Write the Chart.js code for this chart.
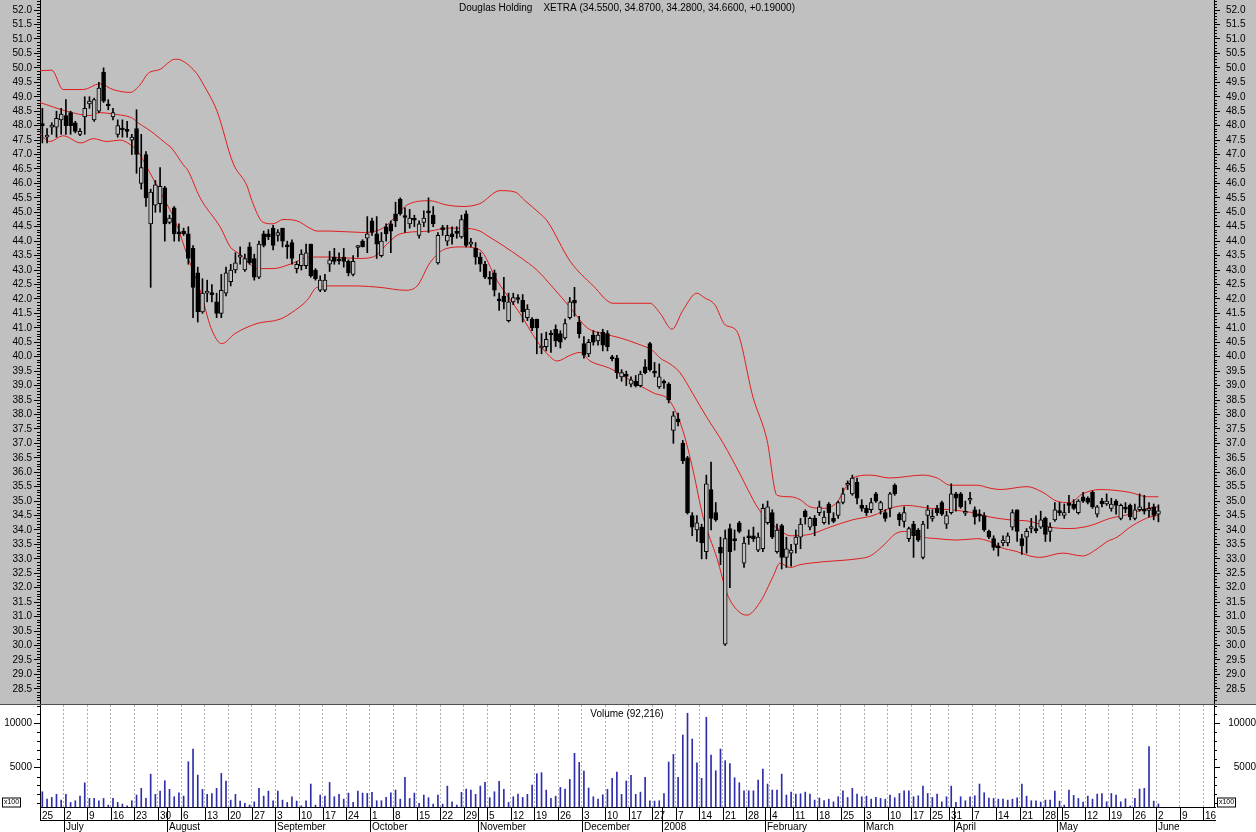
<!DOCTYPE html>
<html lang="en">
<head>
<meta charset="UTF-8">
<title>Douglas Holding</title>
<script src="https://cdn.jsdelivr.net/npm/chart.js"></script>
<style>
  body { margin: 0; background: #c0c0c0; width: 1256px; height: 832px; overflow: hidden; position: relative; }
  #priceChart { position: absolute; left: 0; top: 0; }
  #volumeChart { position: absolute; left: 0; top: 705px; background: #ffffff; }
</style>
</head>
<body>
<canvas id="priceChart" width="1256" height="705"></canvas>
<canvas id="volumeChart" width="1256" height="127"></canvas>
<script>
// daily candles, one per trading day (index 0 = 25 June 2007)
const opens = [
  48.05, 47.6, 47.95, 47.95, 48.2, 48.35, 48.45, 48.1, 47.7, 48.3,
  48.75, 48.2, 48.5, 49.85, 48.72, 48.3, 47.7, 47.88, 47.82, 47.5,
  47.9, 46.0, 47.0, 44.6, 45.25, 45.3, 45.85, 44.65, 45.15, 44.27,
  44.35, 44.25, 43.75, 42.9, 41.55, 42.2, 42.17, 41.9, 41.5, 42.2,
  42.6, 43.0, 43.45, 43.0, 43.8, 43.4, 42.75, 44.25, 44.25, 44.45,
  44.2, 44.45, 43.82, 43.95, 43.05, 43.15, 43.15, 43.9, 43.0, 42.3,
  42.3, 43.2, 43.45, 43.38, 43.45, 43.3, 42.85, 43.78, 44.0, 44.1,
  44.7, 44.25, 43.5, 44.5, 44.6, 44.95, 45.45, 44.88, 44.6, 44.77,
  44.2, 44.65, 45.02, 44.9, 43.25, 44.45, 44.0, 44.25, 44.32, 44.15,
  44.95, 43.9, 43.75, 43.45, 43.2, 42.72, 42.9, 41.97, 42.1, 41.25,
  41.9, 42.02, 41.95, 41.35, 41.3, 41.3, 40.3, 40.35, 40.8, 40.95,
  40.8, 40.65, 41.35, 41.95, 41.2, 40.45, 40.1, 40.75, 40.55, 40.85,
  40.8, 39.97, 39.95, 39.3, 39.38, 39.05, 39.15, 39.0, 39.65, 40.45,
  39.47, 38.95, 39.12, 39.05, 37.45, 37.85, 37.0, 36.5, 34.5, 34.0,
  34.1, 33.25, 35.4, 34.6, 33.4, 30.05, 34.05, 33.67, 34.25, 32.85,
  33.77, 33.8, 33.3, 33.35, 34.25, 34.6, 33.25, 34.15, 33.05, 33.2,
  33.5, 33.75, 34.65, 34.1, 34.4, 34.6, 34.25, 34.9, 34.4, 34.5,
  34.95, 35.55, 35.25, 35.65, 34.85, 34.75, 34.7, 35.25, 34.7, 34.6,
  34.75, 35.55, 34.55, 34.3, 33.7, 34.2, 34.0, 33.05, 34.5, 34.4,
  34.75, 34.95, 34.2, 34.6, 35.25, 35.25, 34.58, 35.03, 34.7, 34.52,
  34.5, 33.95, 33.7, 33.42, 33.55, 33.55, 34.1, 34.7, 33.7, 33.75,
  34.05, 34.02, 34.1, 34.4, 33.95, 34.35, 34.65, 34.5, 34.9, 34.9,
  34.6, 35.15, 35.1, 35.3, 34.55, 35.0, 34.9, 34.75, 35.0, 34.4,
  34.78, 34.85, 34.4, 34.7, 34.7, 34.68, 34.8, 34.55
];
const highs = [
  48.6, 47.9, 48.1, 48.5, 48.6, 48.9, 48.5, 48.15, 47.9, 49.0,
  49.0, 48.95, 49.5, 50.0, 48.9, 48.6, 48.2, 48.2, 48.15, 47.7,
  48.55, 47.7, 47.1, 45.8, 46.1, 46.55, 45.9, 44.9, 45.2, 44.6,
  44.45, 44.5, 43.85, 43.1, 42.7, 42.65, 42.5, 42.2, 42.85, 43.1,
  43.2, 43.6, 43.8, 43.55, 43.95, 43.55, 44.0, 44.35, 44.4, 44.55,
  44.4, 44.45, 44.0, 44.05, 43.3, 43.7, 43.9, 43.9, 43.05, 42.8,
  42.85, 43.65, 43.75, 43.6, 43.75, 43.35, 43.5, 43.85, 44.05, 44.85,
  44.8, 44.85, 44.3, 44.6, 44.7, 45.35, 45.5, 45.15, 45.1, 44.9,
  44.7, 45.05, 45.5, 45.2, 44.3, 44.55, 44.55, 44.5, 44.5, 44.9,
  45.05, 44.1, 43.95, 43.6, 43.3, 42.95, 43.0, 42.2, 42.75, 42.2,
  42.2, 42.15, 42.15, 41.8, 41.35, 41.3, 40.8, 40.85, 40.9, 41.1,
  40.9, 41.3, 42.05, 42.4, 41.4, 40.7, 40.6, 40.9, 40.85, 40.95,
  40.9, 40.05, 40.05, 39.55, 39.5, 39.3, 39.35, 39.5, 39.9, 40.5,
  39.8, 39.75, 39.2, 39.1, 38.1, 38.05, 37.1, 36.55, 34.6, 34.5,
  34.2, 35.9, 36.35, 34.95, 33.75, 34.0, 34.2, 34.0, 34.3, 33.75,
  34.0, 34.1, 33.9, 34.9, 35.0, 34.7, 34.2, 34.2, 33.75, 33.5,
  34.0, 34.4, 34.7, 34.45, 34.5, 35.0, 34.65, 34.95, 34.6, 35.0,
  35.45, 35.7, 35.9, 35.8, 35.05, 34.85, 35.1, 35.3, 35.0, 34.7,
  35.3, 35.6, 34.6, 34.8, 34.1, 34.3, 34.05, 34.3, 34.85, 34.7,
  34.85, 35.0, 34.65, 35.6, 35.3, 35.3, 35.0, 35.3, 34.8, 34.7,
  34.6, 34.0, 33.8, 33.55, 33.8, 33.9, 34.7, 34.7, 33.85, 34.05,
  34.4, 34.5, 34.65, 34.45, 34.25, 34.95, 34.95, 34.9, 35.2, 35.05,
  35.05, 35.3, 35.15, 35.35, 34.85, 35.1, 35.25, 35.1, 35.05, 34.9,
  34.95, 34.9, 34.9, 35.25, 35.2, 34.95, 34.9, 34.87
];
const lows = [
  47.4, 47.4, 47.7, 47.6, 47.7, 47.7, 47.7, 47.75, 47.65, 47.7,
  48.6, 48.15, 48.45, 48.8, 48.55, 48.2, 47.6, 47.6, 47.6, 47.0,
  46.35, 45.8, 45.2, 42.4, 45.0, 45.0, 44.0, 44.6, 44.0, 44.0,
  44.2, 43.2, 41.35, 41.2, 41.5, 41.9, 41.9, 41.35, 41.35, 42.1,
  42.45, 42.9, 43.2, 42.95, 43.2, 42.65, 42.7, 43.8, 44.05, 43.7,
  44.0, 43.8, 43.4, 43.2, 42.9, 43.0, 43.05, 42.75, 42.65, 42.25,
  42.25, 42.95, 43.2, 43.2, 43.1, 42.8, 42.8, 43.45, 43.8, 43.6,
  44.2, 43.4, 43.45, 44.0, 43.6, 44.5, 44.9, 44.3, 44.45, 44.5,
  44.1, 44.5, 44.3, 44.5, 43.2, 44.2, 43.85, 43.9, 44.1, 44.1,
  43.8, 43.8, 43.2, 42.95, 42.7, 42.5, 42.1, 41.6, 41.65, 41.2,
  41.8, 41.85, 41.2, 41.25, 40.9, 40.1, 40.1, 40.2, 40.15, 40.35,
  40.3, 40.6, 41.3, 41.4, 40.65, 39.95, 40.0, 40.4, 40.4, 40.2,
  40.2, 39.85, 39.25, 39.15, 39.0, 38.95, 38.95, 38.95, 39.4, 39.5,
  39.3, 38.9, 38.9, 38.4, 37.0, 37.6, 36.3, 34.55, 33.8, 33.6,
  33.0, 33.0, 34.0, 34.3, 32.8, 30.0, 32.0, 33.3, 33.9, 32.7,
  33.5, 33.6, 33.25, 33.25, 34.2, 33.7, 33.2, 32.65, 32.7, 32.75,
  33.2, 33.35, 34.2, 34.0, 33.8, 34.5, 34.2, 34.2, 34.25, 34.4,
  34.9, 35.4, 35.2, 34.9, 34.65, 34.5, 34.6, 34.95, 34.55, 34.3,
  34.45, 35.2, 34.15, 34.1, 33.6, 33.05, 33.6, 33.0, 34.05, 34.3,
  34.5, 34.5, 34.05, 34.55, 34.65, 34.75, 34.5, 34.9, 34.2, 34.3,
  33.95, 33.7, 33.3, 33.1, 33.45, 33.45, 34.0, 33.6, 33.15, 33.2,
  33.9, 33.9, 34.05, 33.6, 33.6, 34.3, 34.5, 34.4, 34.6, 34.7,
  34.55, 34.95, 34.9, 34.75, 34.45, 34.8, 34.85, 34.65, 34.55, 34.35,
  34.6, 34.35, 34.35, 34.65, 34.55, 34.45, 34.35, 34.28
];
const closes = [
  48.0, 47.62, 48.0, 48.25, 48.4, 48.0, 48.0, 47.8, 47.8, 48.6,
  48.85, 48.9, 49.3, 48.85, 48.68, 48.45, 48.0, 47.85, 47.8, 47.6,
  47.0, 46.55, 45.5, 45.7, 45.95, 45.9, 44.6, 44.8, 44.25, 44.25,
  44.25, 43.4, 42.4, 41.55, 42.2, 42.22, 42.15, 41.5, 42.3, 42.9,
  43.0, 43.25, 43.5, 43.4, 43.25, 42.75, 43.9, 43.85, 44.15, 43.85,
  44.3, 44.0, 43.8, 43.4, 43.2, 43.55, 43.6, 42.8, 42.7, 42.65,
  42.65, 43.35, 43.3, 43.32, 43.3, 42.9, 43.3, 43.82, 43.8, 44.25,
  44.3, 43.9, 44.0, 44.25, 44.35, 44.7, 44.95, 44.82, 44.8, 44.73,
  44.6, 44.8, 44.98, 44.6, 44.2, 44.4, 44.2, 44.15, 44.27, 44.75,
  43.85, 43.95, 43.45, 43.2, 42.75, 42.68, 42.3, 41.93, 41.9, 41.9,
  42.05, 41.98, 41.55, 41.65, 41.0, 41.0, 40.35, 40.6, 40.75, 40.55,
  40.5, 41.15, 41.9, 41.85, 40.8, 40.05, 40.5, 40.5, 40.75, 40.4,
  40.35, 39.93, 39.45, 39.45, 39.32, 39.2, 39.0, 39.4, 39.45, 39.55,
  39.43, 39.3, 39.08, 38.5, 37.95, 37.75, 36.4, 34.6, 34.1, 34.25,
  33.55, 35.6, 34.4, 34.35, 33.2, 33.7, 33.25, 33.63, 33.95, 33.55,
  33.73, 33.7, 33.75, 34.75, 34.8, 33.75, 34.0, 33.05, 33.35, 33.3,
  33.75, 34.2, 34.45, 34.4, 34.15, 34.8, 34.45, 34.6, 34.3, 34.95,
  35.25, 35.6, 35.8, 35.1, 34.75, 34.6, 34.95, 35.0, 34.95, 34.4,
  35.25, 35.25, 34.35, 34.6, 34.05, 33.8, 33.65, 34.2, 34.7, 34.45,
  34.6, 34.55, 34.5, 35.25, 35.1, 34.8, 34.62, 35.07, 34.45, 34.48,
  34.0, 33.75, 33.4, 33.38, 33.65, 33.8, 34.6, 33.95, 33.45, 33.95,
  34.1, 33.98, 34.35, 33.85, 34.1, 34.7, 34.6, 34.6, 34.85, 34.75,
  35.0, 35.0, 34.95, 34.8, 34.8, 34.9, 35.0, 34.9, 34.85, 34.85,
  34.72, 34.45, 34.7, 34.8, 34.65, 34.72, 34.5, 34.66
];
// volume in units of 100 shares
const volumes = [
  2290, 1465, 1650, 2000, 1350, 2000, 1090, 1280, 1800, 3300,
  1540, 1540, 1280, 1540, 790, 1540, 1090, 900, 710, 1280,
  1920, 2670, 1540, 4280, 2000, 2370, 3530, 2560, 1730, 2180,
  1800, 5680, 7100, 4170, 2560, 2000, 2100, 2670, 4360, 3500,
  1350, 2000, 1240, 980, 800, 1160, 2670, 1800, 2370, 1280,
  2370, 1350, 1090, 1730, 1240, 710, 1280, 3160, 790, 1920,
  1800, 3340, 1730, 2000, 1460, 2140, 1090, 2370, 2140, 2100,
  2220, 1280, 1280, 1650, 2180, 2480, 1460, 3910, 1540, 2140,
  980, 1920, 1620, 900, 1920, 900, 2930, 1160, 790, 2220,
  2590, 2480, 2000, 2930, 3340, 1620, 2290, 3460, 2560, 1090,
  1730, 2030, 1650, 2000, 3040, 4320, 4440, 2480, 1540, 1800,
  2780, 2590, 3680, 6620, 5600, 4620, 2710, 1730, 1460, 1950,
  2560, 3800, 4510, 2000, 3500, 4130, 2000, 2250, 3910, 1280,
  1240, 1280, 2100, 5640, 6500, 3910, 8680, 11130, 8230, 5560,
  3800, 10680, 6430, 4660, 7100, 5790, 5450, 3870, 3310, 2400,
  2400, 2400, 3610, 4850, 3160, 2480, 2480, 4280, 1920, 2250,
  2030, 2070, 2250, 2030, 1350, 1580, 1310, 1460, 1160, 1730,
  2400, 1650, 2670, 2030, 1730, 1800, 1460, 1650, 1540, 1460,
  1920, 1620, 2100, 2400, 2400, 1730, 1840, 2930, 2100, 1650,
  2030, 1160, 1730, 2930, 1090, 1730, 1280, 1730, 1840, 3160,
  2180, 1580, 1540, 1460, 1460, 1350, 1460, 1620, 3160, 1800,
  1280, 1280, 1130, 1350, 1350, 2370, 1240, 790, 2480, 1880,
  1540, 1130, 1800, 1460, 2030, 2100, 1160, 2100, 1920, 1160,
  1500, 680, 1540, 2590, 2670, 7370, 1240, 922
];
// Bollinger bands: [day index, price]
const upperBand = [
  [-0.5, 49.9], [2, 49.92], [4.4, 49.25], [8.7, 49.25], [12.2, 49.45], [15, 49.25], [18.6, 49.15],
  [20.7, 49.4], [22.4, 49.8], [25, 49.95], [28.2, 50.3], [29.7, 50.25], [32.8, 49.8], [34.1, 49.45],
  [37.1, 48.5], [40.5, 46.7], [43.5, 45.9], [44.5, 45.4], [46.9, 44.65], [49, 44.6], [51.1, 44.75],
  [54.1, 44.7], [56.8, 44.45], [58.3, 44.35], [61.1, 44.35], [68.1, 44.3], [72.3, 44.45], [75.3, 44.9],
  [77.4, 45.25], [82.3, 45.4], [85.9, 45.25], [89.3, 45.2], [92.9, 45.3], [97.2, 45.75], [100.4, 45.7],
  [102.5, 45.4], [105.7, 44.95], [107.2, 44.7], [112.1, 43.3], [117, 42.45], [121.2, 41.85], [124.8, 41.85],
  [129, 41.85], [131.2, 41.5], [133.7, 40.95], [136, 41.6], [139, 42.2], [140.5, 42.05], [142.8, 41.8],
  [145, 41.1], [147.4, 40.9], [150.9, 38.6], [153.9, 37.1], [156, 35.2], [158.8, 35.15], [160.9, 35.05],
  [163, 34.8], [165.8, 34.75], [168.7, 34.95], [170.5, 35.45], [172.1, 35.8], [175.8, 35.9], [180, 35.8],
  [187, 35.9], [190, 35.8], [192.8, 35.55], [198.5, 35.55], [201.2, 35.45], [203.4, 35.4], [209.1, 35.5],
  [212.5, 35.3], [215.4, 35.0], [218.2, 34.95], [220.9, 35.25], [224.6, 35.4], [231, 35.3], [234.6, 35.15],
  [237, 35.15]
];
const middleBand = [
  [-0.5, 48.8], [5.2, 48.5], [10.1, 48.35], [12.2, 48.45], [15, 48.4], [19.2, 48.25], [20.3, 48.1],
  [22.2, 47.9], [23.9, 47.7], [26.5, 47.35], [27.3, 47.25], [29.9, 46.65], [30.9, 46.45], [33.5, 45.5],
  [37.9, 44.45], [39.9, 43.8], [41.5, 43.6], [42.6, 43.45], [45.6, 43.05], [49, 43.05], [52.6, 43.2],
  [56.8, 43.45], [61.1, 43.45], [66.8, 43.4], [70.2, 43.45], [73.2, 43.9], [75.3, 44.2], [77.4, 44.3],
  [82.3, 44.35], [85.9, 44.45], [89.3, 44.45], [92.9, 44.35], [94.4, 44.2], [97.8, 43.85], [101.4, 43.45],
  [105, 43.0], [108.4, 42.4], [112.1, 41.7], [115.7, 41.0], [119.1, 40.8], [122.7, 40.65], [126.3, 40.45],
  [129.7, 40.2], [131.2, 39.95], [133.3, 39.75], [135.4, 39.45], [138.2, 38.7], [141.1, 37.9], [144.6, 37.0],
  [148.1, 35.95], [151.8, 34.8], [153.9, 34.35], [156.6, 34.0], [158.8, 33.8], [163, 33.85], [167.3, 34.1],
  [172, 34.35], [176.4, 34.5], [180, 34.75], [183.6, 34.85], [188.5, 34.75], [192.8, 34.7], [197.6, 34.6],
  [201.2, 34.45], [205.5, 34.35], [209.7, 34.3], [213.9, 34.1], [218.2, 34.05], [222.5, 34.15], [226.7, 34.4],
  [231, 34.55], [234.6, 34.75], [237, 34.8]
];
const lowerBand = [
  [-0.5, 47.7], [1.6, 47.45], [4.4, 47.65], [8.2, 47.4], [10.8, 47.55], [13.7, 47.45], [16.5, 47.5],
  [18.6, 47.35], [20.3, 47.1], [22.4, 46.5], [25.2, 45.65], [28.2, 44.7], [30.9, 43.45], [33.7, 42.2],
  [35.8, 41.0], [38.1, 40.45], [40.9, 40.8], [45.6, 41.15], [50.5, 41.3], [53.6, 41.6], [56.2, 41.95],
  [58.3, 42.4], [61.1, 42.45], [66.8, 42.45], [71.7, 42.4], [77, 42.3], [79.6, 42.45], [82.3, 43.25],
  [85.9, 43.75], [89.3, 43.8], [92.9, 43.7], [96.5, 42.65], [101.4, 41.5], [105, 40.55], [107.2, 40.1],
  [109.3, 39.85], [112.1, 40.05], [114.2, 40.15], [116.3, 39.85], [120.5, 39.6], [122.7, 39.4], [126.3, 39.05],
  [129.7, 38.75], [133.3, 38.45], [136, 37.45], [138.2, 36.05], [140.3, 34.45], [143.3, 33.0], [145.4, 31.8],
  [147.4, 31.25], [149.6, 31.05], [152.4, 31.5], [155.2, 32.4], [156.6, 32.85], [158.8, 32.7], [160.9, 32.8],
  [163, 32.85], [165.8, 32.9], [170, 32.95], [173, 33.0], [175.8, 33.1], [178.5, 33.45], [181.5, 33.9],
  [183.6, 33.95], [187, 33.75], [190, 33.7], [194.2, 33.65], [198.5, 33.7], [201.2, 33.6], [203.4, 33.4],
  [207, 33.25], [209.7, 33.1], [211.8, 33.05], [216.7, 33.2], [220.9, 33.1], [224, 33.35], [226.1, 33.6],
  [228.2, 33.75], [231, 34.1], [233.7, 34.35], [235.2, 34.45], [237, 34.5]
];

// axis ticks
const priceTicks = [
  28.5, 29.0, 29.5, 30.0, 30.5, 31.0, 31.5, 32.0, 32.5, 33.0, 33.5, 34.0, 34.5, 35.0, 35.5, 36.0,
  36.5, 37.0, 37.5, 38.0, 38.5, 39.0, 39.5, 40.0, 40.5, 41.0, 41.5, 42.0, 42.5, 43.0, 43.5, 44.0,
  44.5, 45.0, 45.5, 46.0, 46.5, 47.0, 47.5, 48.0, 48.5, 49.0, 49.5, 50.0, 50.5, 51.0, 51.5, 52.0
];
const volumeTicks = [5000, 10000];
const weekStarts = [0, 5, 10, 15, 20, 25, 30, 35, 40, 45, 50, 55, 60, 65, 70, 75, 80, 85, 90, 95,
  100, 105, 110, 115, 120, 125, 130, 135, 140, 145, 150, 155, 160, 165, 170, 175, 180, 185, 189, 193,
  198, 203, 208, 213, 217, 222, 227, 232, 237, 242, 247];
const weekLabels = ['25', '2', '9', '16', '23', '30', '6', '13', '20', '27', '3', '10', '17', '24', '1', '8',
  '15', '22', '29', '5', '12', '19', '26', '3', '10', '17', '27', '7', '14', '21', '28', '4', '11', '18',
  '25', '3', '10', '17', '25', '31', '7', '14', '21', '28', '5', '12', '19', '26', '2', '9', '16'];
const monthStarts = [5, 27, 50, 70, 93, 115, 132, 154, 175, 194, 216, 237];
const monthLabels = ['July', 'August', 'September', 'October', 'November', 'December', '2008',
  'February', 'March', 'April', 'May', 'June'];

const titleLeft = 'Douglas Holding';
const titleRight = 'XETRA (34.5500, 34.8700, 34.2800, 34.6600, +0.19000)';
const volumeTitle = 'Volume (92,216)';

const FONT = '"Liberation Sans", Arial, sans-serif';
Chart.defaults.font.family = FONT;
Chart.defaults.font.size = 10;
Chart.defaults.color = '#000';

const X_MIN = -0.5, X_MAX = 248.8;
const bg = '#c0c0c0';

const bodies = opens.map((o, i) => ({ x: i, y: [o, closes[i]] }));
const wicks = lows.map((l, i) => ({ x: i, y: [l, highs[i]] }));
const vols = volumes.map((v, i) => ({ x: i, y: v }));

function fixWidth(w) {
  return s => { s.width = w; s.paddingTop = 0; s.paddingBottom = 0; };
}

function bandSet(data) {
  return {
    type: 'line', data: data, order: 2,
    borderColor: '#e01c1c', borderWidth: 1, pointRadius: 0,
    cubicInterpolationMode: 'monotone', fill: false
  };
}

const pricePlugin = {
  id: 'priceDecor',
  afterDraw(chart) {
    const { ctx, chartArea, scales } = chart;
    ctx.save();
    // minor ticks every 0.1
    ctx.strokeStyle = '#000';
    ctx.lineWidth = 1;
    ctx.beginPath();
    for (let k = 280; k <= 523; k++) {
      if (k % 5 === 0) continue;
      const y = Math.round(scales.y.getPixelForValue(k / 10)) + 0.5;
      ctx.moveTo(chartArea.left - 3, y); ctx.lineTo(chartArea.left, y);
      ctx.moveTo(chartArea.right, y); ctx.lineTo(chartArea.right + 3, y);
    }
    ctx.stroke();
    // title
    ctx.font = '10px ' + FONT;
    ctx.fillStyle = '#000';
    ctx.textBaseline = 'middle';
    ctx.textAlign = 'left';
    const gap = 11;
    const wl = ctx.measureText(titleLeft).width, wr = ctx.measureText(titleRight).width;
    const x0 = (chartArea.left + chartArea.right) / 2 - (wl + gap + wr) / 2;
    ctx.fillText(titleLeft, x0, 8);
    ctx.fillText(titleRight, x0 + wl + gap, 8);
    // panel separator
    ctx.strokeStyle = '#505050';
    ctx.beginPath();
    ctx.moveTo(0, chart.height - 0.5); ctx.lineTo(chart.width, chart.height - 0.5);
    ctx.stroke();
    ctx.restore();
  }
};

new Chart(document.getElementById('priceChart'), {
  type: 'bar',
  data: {
    datasets: [
      {
        type: 'bar', data: bodies, order: 0, grouped: false,
        barThickness: 4, minBarLength: 2, borderWidth: 1, borderColor: '#000', borderSkipped: false,
        backgroundColor: c => (closes[c.dataIndex] < opens[c.dataIndex] ? '#000' : bg)
      },
      { type: 'bar', data: wicks, order: 1, grouped: false, barThickness: 1, borderWidth: 0, backgroundColor: '#000' },
      bandSet(upperBand),
      bandSet(middleBand),
      bandSet(lowerBand)
    ]
  },
  options: {
    responsive: false, animation: false, devicePixelRatio: 1,
    layout: { padding: 0, autoPadding: false },
    plugins: { legend: { display: false }, tooltip: { enabled: false } },
    scales: {
      x: { type: 'linear', display: false, min: X_MIN, max: X_MAX, offset: false, grid: { offset: false } },
      y: {
        position: 'left', min: 27.94, max: 52.35,
        afterFit: fixWidth(40),
        afterBuildTicks: s => { s.ticks = priceTicks.map(v => ({ value: v })); },
        ticks: { callback: v => Number(v).toFixed(1), padding: 2, autoSkip: false },
        grid: { drawOnChartArea: false, tickLength: 6, color: '#000' },
        border: { color: '#000' }
      },
      y2: {
        position: 'right', min: 27.94, max: 52.35,
        afterFit: fixWidth(42),
        afterBuildTicks: s => { s.ticks = priceTicks.map(v => ({ value: v })); },
        ticks: { callback: v => Number(v).toFixed(1), padding: 6, autoSkip: false },
        grid: { drawOnChartArea: false, tickLength: 6, color: '#000' },
        border: { color: '#000' }
      }
    }
  },
  plugins: [pricePlugin]
});

const volumePlugin = {
  id: 'volumeDecor',
  afterDraw(chart) {
    const { ctx, chartArea, scales } = chart;
    const xs = scales.x;
    const axisY = Math.round(chartArea.bottom) + 0.5;
    const rowY = axisY + 13;
    const endY = chart.height;
    const left = chartArea.left, right = chartArea.right + 2;
    ctx.save();
    ctx.strokeStyle = '#000';
    ctx.lineWidth = 1;
    ctx.beginPath();
    ctx.moveTo(left, axisY); ctx.lineTo(right, axisY);
    ctx.moveTo(left, rowY); ctx.lineTo(right, rowY);
    // minor ticks on volume axes
    for (let v = 1000; v <= 12000; v += 1000) {
      if (v % 5000 === 0) continue;
      const y = Math.round(scales.y.getPixelForValue(v)) + 0.5;
      ctx.moveTo(chartArea.left - 3, y); ctx.lineTo(chartArea.left, y);
      ctx.moveTo(chartArea.right, y); ctx.lineTo(chartArea.right + 3, y);
    }
    // week ticks
    weekStarts.forEach(i => {
      const px = Math.round(xs.getPixelForValue(i - 0.5)) + 0.5;
      ctx.moveTo(px, axisY); ctx.lineTo(px, rowY);
    });
    // month ticks
    monthStarts.forEach(i => {
      const px = Math.round(xs.getPixelForValue(i - 0.5)) + 0.5;
      ctx.moveTo(px, axisY); ctx.lineTo(px, endY);
    });
    ctx.stroke();

    ctx.fillStyle = '#000';
    ctx.font = '10px ' + FONT;
    ctx.textAlign = 'left';
    ctx.textBaseline = 'alphabetic';
    weekStarts.forEach((i, k) => {
      const px = Math.round(xs.getPixelForValue(i - 0.5));
      ctx.fillText(weekLabels[k], px + 2, axisY + 11);
    });
    monthStarts.forEach((i, k) => {
      const px = Math.round(xs.getPixelForValue(i - 0.5));
      ctx.fillText(monthLabels[k], px + 2, endY - 2);
    });

    // panel title
    ctx.textAlign = 'center';
    ctx.textBaseline = 'middle';
    ctx.fillText(volumeTitle, (chartArea.left + chartArea.right) / 2, 9);

    // unit boxes
    ctx.font = '7px ' + FONT;
    [[2, 'left'], [chartArea.right + 3, 'right']].forEach(([bx]) => {
      ctx.strokeStyle = '#000';
      ctx.strokeRect(bx + 0.5, axisY - 9.5, 18, 9);
      ctx.fillText('x100', bx + 9.5, axisY - 5);
    });
    ctx.restore();
  }
};

new Chart(document.getElementById('volumeChart'), {
  type: 'bar',
  data: {
    datasets: [
      { data: vols, barThickness: 1, borderWidth: 0, backgroundColor: '#2e2eaa', grouped: false }
    ]
  },
  options: {
    responsive: false, animation: false, devicePixelRatio: 1,
    layout: { padding: { top: 0, bottom: 25, left: 0, right: 0 }, autoPadding: false },
    plugins: { legend: { display: false }, tooltip: { enabled: false } },
    scales: {
      x: {
        type: 'linear', min: X_MIN, max: X_MAX, offset: false,
        afterBuildTicks: s => { s.ticks = weekStarts.filter(i => i > 0).map(i => ({ value: i - 0.5 })); },
        ticks: { display: false },
        grid: { drawTicks: false, offset: false, color: '#b0b0b0', borderDash: [2, 2] },
        border: { display: false, dash: [2, 2] }
      },
      y: {
        position: 'left', min: 575, max: 12060,
        afterFit: fixWidth(40),
        afterBuildTicks: s => { s.ticks = volumeTicks.map(v => ({ value: v })); },
        ticks: { callback: v => String(v), padding: 2, autoSkip: false },
        grid: { drawOnChartArea: false, tickLength: 6, color: '#000' },
        border: { color: '#000' }
      },
      y2: {
        position: 'right', min: 575, max: 12060,
        afterFit: fixWidth(42),
        afterBuildTicks: s => { s.ticks = volumeTicks.map(v => ({ value: v })); },
        ticks: { callback: v => String(v), padding: 3, autoSkip: false, crossAlign: 'far' },
        grid: { drawOnChartArea: false, tickLength: 6, color: '#000' },
        border: { color: '#000' }
      }
    }
  },
  plugins: [volumePlugin]
});
</script>
</body>
</html>
